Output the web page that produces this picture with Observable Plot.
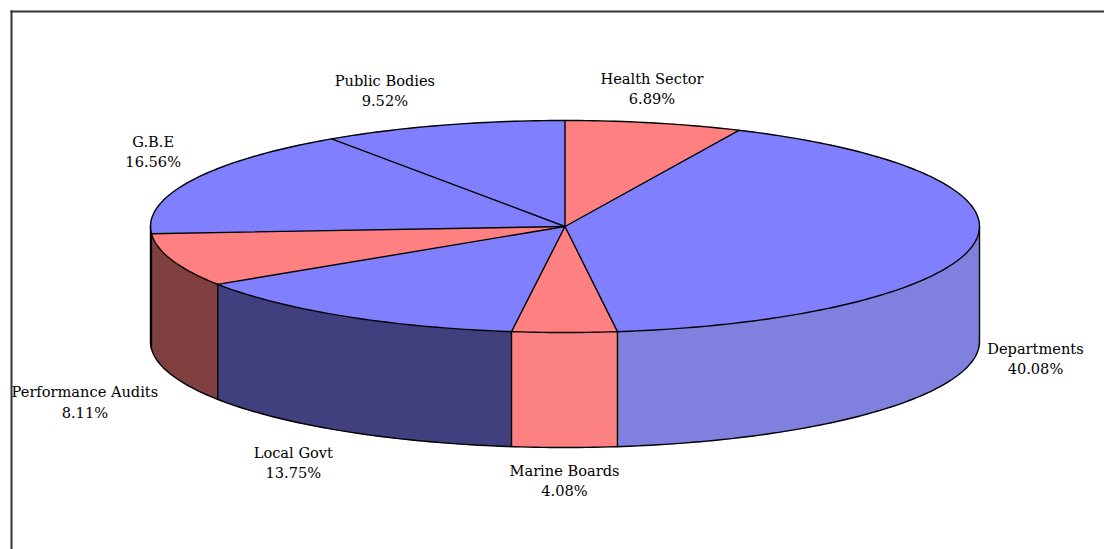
<!DOCTYPE html>
<html>
<head>
<meta charset="utf-8">
<title>Audit effort by sector</title>
<script src="https://cdn.jsdelivr.net/npm/d3@7"></script>
<script src="https://cdn.jsdelivr.net/npm/@observablehq/plot@0.6"></script>
<style>
  html, body { margin: 0; padding: 0; background: #fff; }
  svg { display: block; }
</style>
</head>
<body>
<div id="chart"></div>
<script>
// Sectors, clockwise from twelve o'clock, and their shares in percent.
const sectors = ["Health Sector", "Departments", "Marine Boards", "Local Govt", "Performance Audits", "G.B.E", "Public Bodies"];
const shares = [6.89, 40.08, 4.08, 13.75, 8.11, 16.56, 9.52];

// Alternating tints for the top face and the shaded wall below it.
const topColors = ["#ff8080", "#8080ff", "#ff8080", "#8080ff", "#ff8080", "#8080ff", "#8080ff"];
const wallColors = ["#ff8080", "#8080df", "#fb8082", "#40407f", "#804040", "#8080df", "#8080df"];

// Label placement relative to the rim point at each slice's middle, in pixels.
const labelShift = [[-2, -35], [59, 118.5], [0, 147], [-51, 145], [-87, 141], [-39, -30], [-58, -36]];

// The rounded shares fall short of 100; the gap stays in Departments' tint, directly after it.
const gap = 100 - d3.sum(shares);
const departments = sectors.indexOf("Departments");

let running = 0;
const wedges = sectors.map((name, i) => {
  const start = running * 3.6;
  running += shares[i];
  const end = running * 3.6;
  if (i === departments) running += gap;
  return {name, share: shares[i], start, end, fillEnd: running * 3.6, top: topColors[i], wall: wallColors[i], index: i};
});

// Height of the drum in units of the ellipse's vertical radius.
const depth = 115 / 106;
const rad = (deg) => deg * Math.PI / 180;
const rim = (deg, drop = 0) => ({x: Math.sin(rad(deg)), y: Math.cos(rad(deg)) - drop});
const arc = (from, to, drop = 0) => {
  const n = Math.max(2, Math.ceil(Math.abs(to - from)));
  return d3.range(n + 1).map((k) => rim(from + (to - from) * k / n, drop));
};

// Only the part of a wedge on the near half of the drum shows a wall.
const walls = wedges
  .map((w) => ({...w, a: Math.max(w.start, 90), b: Math.min(w.fillEnd, 270)}))
  .filter((w) => w.b > w.a);

const ink = {stroke: "#000", strokeWidth: 1.4};
const xy = {x: "x", y: "y"};

const wallFaces = walls.map((w) =>
  Plot.line([...arc(w.a, w.b), ...arc(w.b, w.a, depth)], {...xy, fill: w.wall, stroke: w.wall, strokeWidth: 0.6, curve: "linear"})
);
const topFaces = wedges.map((w) =>
  Plot.line([{x: 0, y: 0}, ...arc(w.start, w.fillEnd), {x: 0, y: 0}], {...xy, fill: w.top, stroke: w.top, strokeWidth: 0.6, curve: "linear"})
);

// Spokes and wall seams sit where one wedge's fill meets the next.
const spokeAngles = wedges.map((w) => w.fillEnd);
const seamAngles = [90, 270, ...spokeAngles.filter((deg) => deg > 90 && deg < 270)];

const outlines = [
  Plot.line(arc(0, 360), {...xy, ...ink, curve: "linear"}),
  Plot.line(arc(90, 270, depth), {...xy, ...ink, curve: "linear"}),
  ...spokeAngles.map((deg) => Plot.line([{x: 0, y: 0}, rim(deg)], {...xy, ...ink})),
  ...seamAngles.map((deg) => Plot.line([rim(deg), rim(deg, depth)], {...xy, ...ink}))
];

const labels = wedges.map((w) => {
  const mid = rim((w.start + w.end) / 2);
  return Plot.text([{...mid, label: `${w.name}\n${w.share.toFixed(2)}%`}], {
    ...xy,
    text: "label",
    dx: labelShift[w.index][0],
    dy: labelShift[w.index][1],
    lineHeight: 1.38,
    fill: "#000",
    stroke: "none"
  });
});

const chart = Plot.plot({
  width: 1104,
  height: 549,
  marginLeft: 11,
  marginTop: 11,
  marginRight: 0,
  marginBottom: 0,
  style: {fontFamily: "'DejaVu Serif', serif", fontSize: "14.6px", background: "#fff"},
  x: {domain: [-1, 1], range: [150, 979], axis: null},
  y: {domain: [1, -1], range: [120, 332], axis: null},
  marks: [
    Plot.frame({anchor: "left", stroke: "#333", strokeWidth: 2}),
    Plot.frame({anchor: "top", stroke: "#333", strokeWidth: 2}),
    ...wallFaces,
    ...topFaces,
    ...outlines,
    ...labels
  ]
});
document.getElementById("chart").append(chart);
</script>
</body>
</html>
